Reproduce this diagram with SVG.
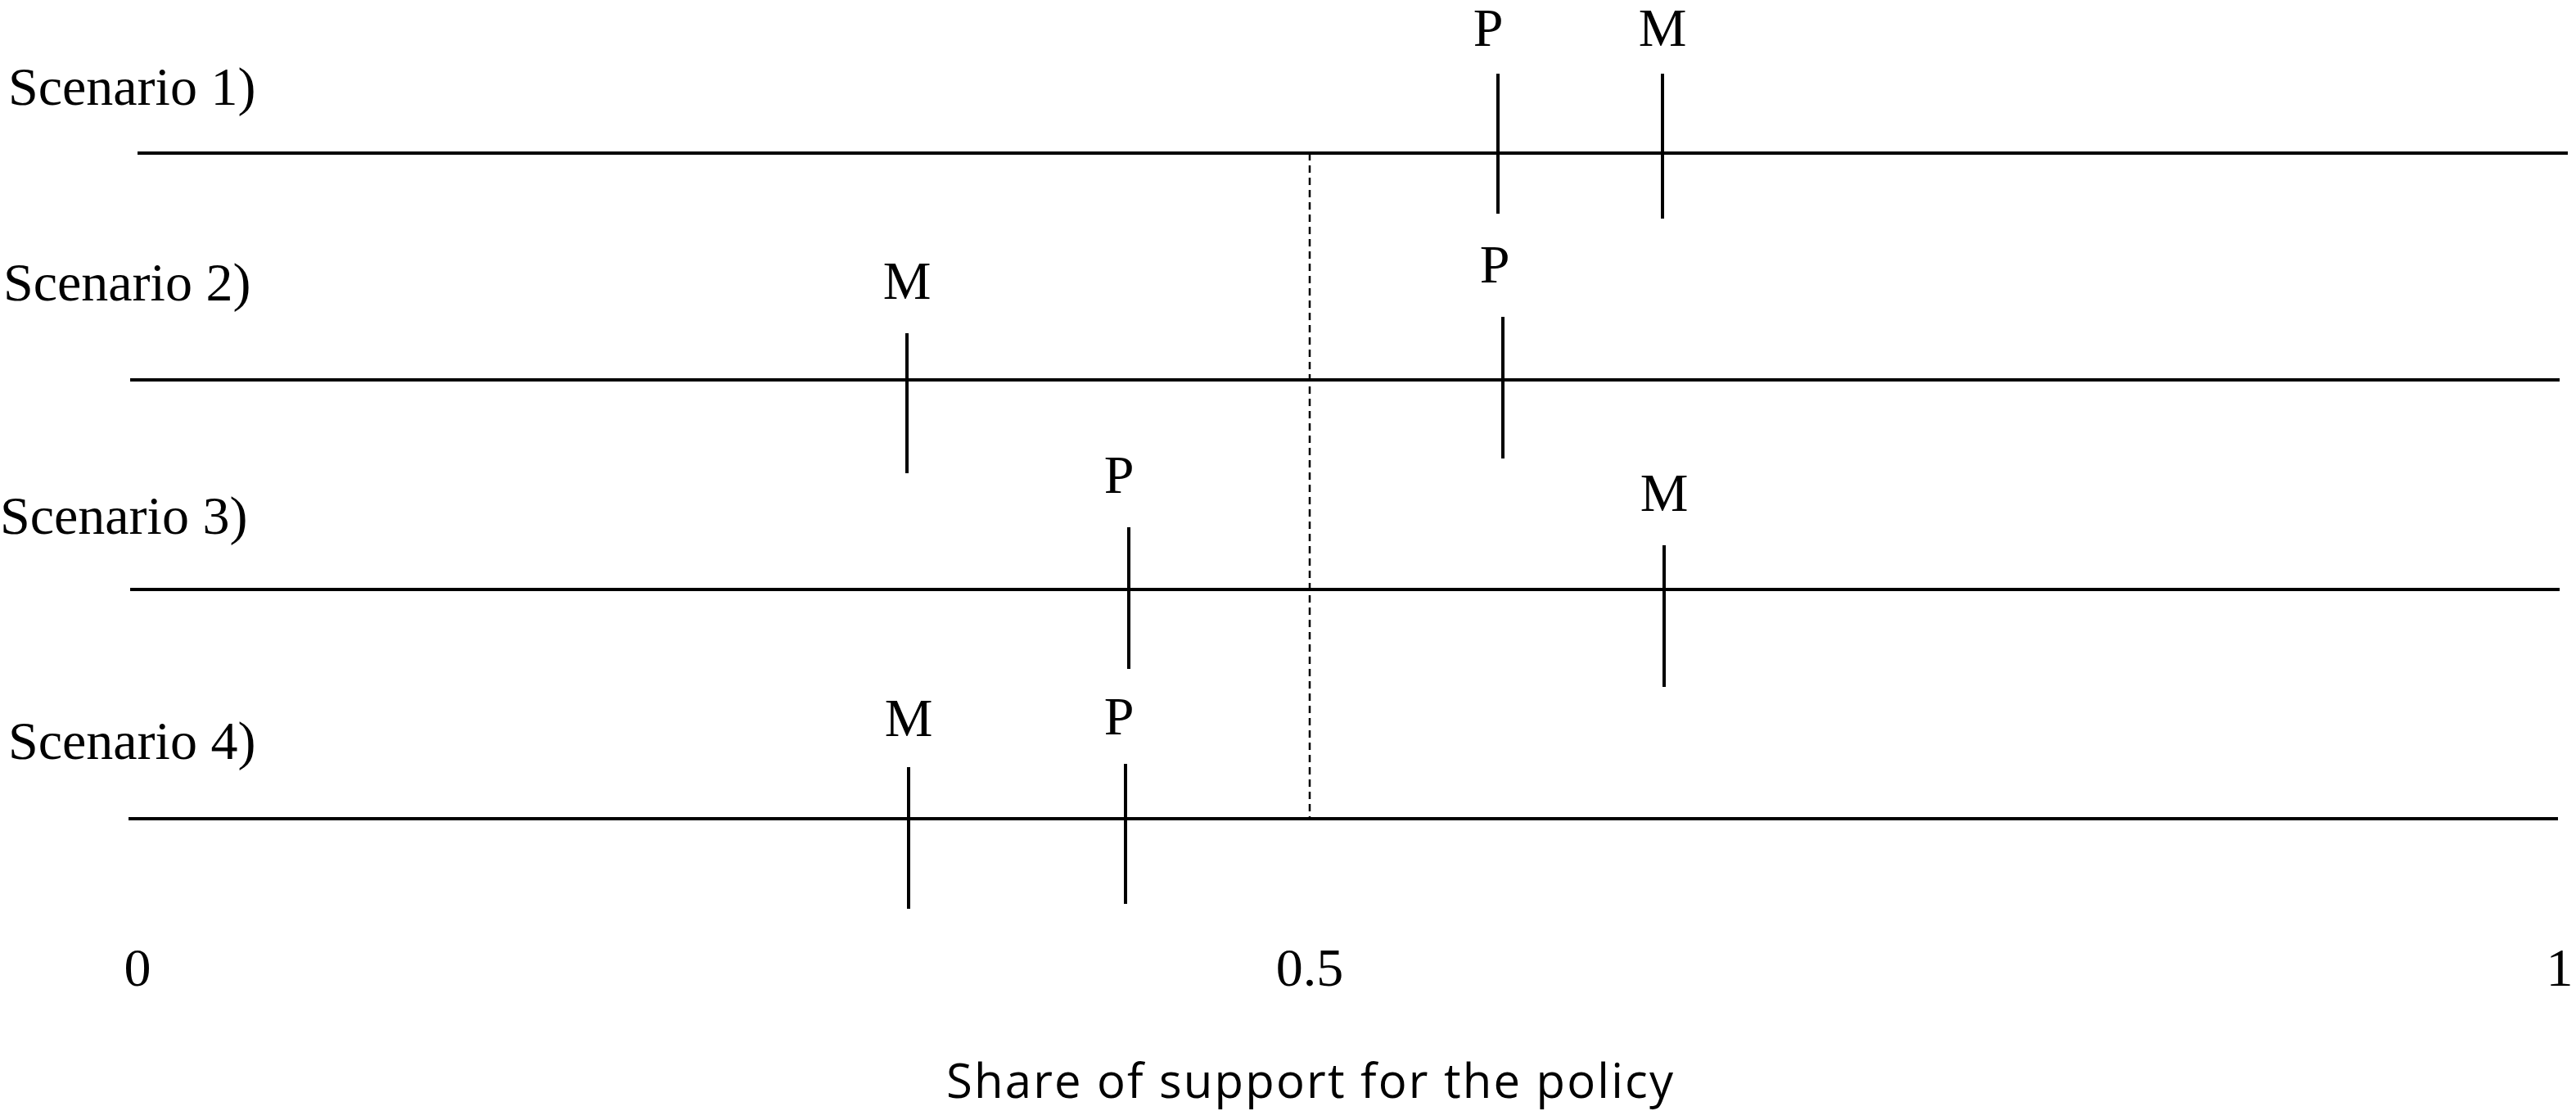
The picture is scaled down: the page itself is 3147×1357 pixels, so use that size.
<svg xmlns="http://www.w3.org/2000/svg" width="3147" height="1357" viewBox="0 0 3147 1357">
<style>
.ln{stroke:#000;stroke-width:4;fill:none}
.dash{stroke:#000;stroke-width:2.5;stroke-dasharray:9 6;fill:none}
.t{font-family:"Liberation Serif",serif;font-size:66px;fill:#000}
.c{text-anchor:middle}
.s{font-family:"Open Sans","Noto Sans",sans-serif;font-size:58px;fill:#000;text-anchor:middle}
</style>
<rect width="3147" height="1357" fill="#fff"/>
<g id="axes">
<line class="ln" x1="168" y1="187" x2="3137" y2="187"/>
<line class="ln" x1="159" y1="464" x2="3127" y2="464"/>
<line class="ln" x1="159" y1="720" x2="3127" y2="720"/>
<line class="ln" x1="157" y1="1000" x2="3125" y2="1000"/>
<line class="dash" x1="1600" y1="187" x2="1600" y2="1000"/>
</g>
<g id="labels">
<text class="t" x="10" y="128">Scenario 1)</text>
<text class="t" x="4" y="367">Scenario 2)</text>
<text class="t" x="0" y="652">Scenario 3)</text>
<text class="t" x="10" y="927">Scenario 4)</text>
<text class="t c" x="168" y="1204">0</text>
<text class="t c" x="1600" y="1204">0.5</text>
<text class="t c" x="3127" y="1204">1</text>
<text class="s" x="1600" y="1341" textLength="888">Share of support for the policy</text>
</g>
<g id="s1">
<line class="ln" x1="1830" y1="90" x2="1830" y2="261"/><text class="t c" x="1818" y="56">P</text>
<line class="ln" x1="2031" y1="90" x2="2031" y2="267"/><text class="t c" x="2031" y="56">M</text>
</g>
<g id="s2">
<line class="ln" x1="1108" y1="407" x2="1108" y2="578"/><text class="t c" x="1108" y="365">M</text>
<line class="ln" x1="1836" y1="387" x2="1836" y2="560"/><text class="t c" x="1826" y="345">P</text>
</g>
<g id="s3">
<line class="ln" x1="1379" y1="644" x2="1379" y2="817"/><text class="t c" x="1367" y="602">P</text>
<line class="ln" x1="2033" y1="666" x2="2033" y2="839"/><text class="t c" x="2033" y="624">M</text>
</g>
<g id="s4">
<line class="ln" x1="1110" y1="937" x2="1110" y2="1110"/><text class="t c" x="1110" y="899">M</text>
<line class="ln" x1="1375" y1="933" x2="1375" y2="1104"/><text class="t c" x="1367" y="897">P</text>
</g>
</svg>
